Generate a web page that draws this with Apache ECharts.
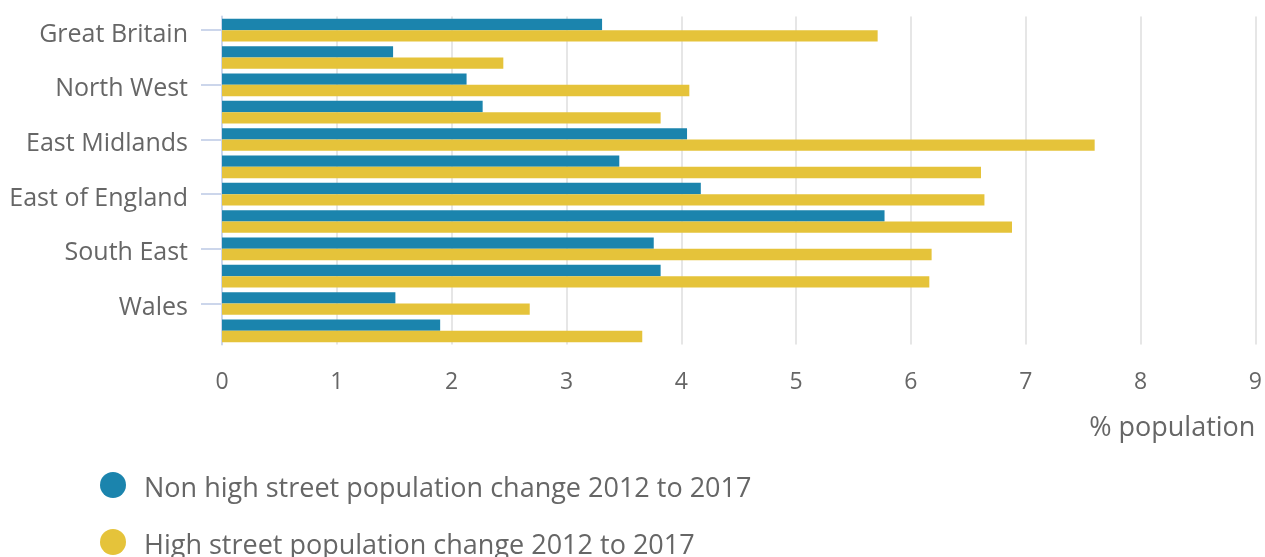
<!DOCTYPE html>
<html>
<head>
<meta charset="utf-8">
<script src="https://cdn.jsdelivr.net/npm/echarts@6/dist/echarts.min.js"></script>
<style>
	html, body { margin: 0; padding: 0; background: #fff; }
	#barChart { width: 1265px; height: 557px; }
</style>
</head>
<body>
<div id="barChart"></div>
<script>
// regions, top to bottom
var regions = [
	'Great Britain', 'North East', 'North West', 'Yorkshire and The Humber',
	'East Midlands', 'West Midlands', 'East of England', 'London',
	'South East', 'South West', 'Wales', 'Scotland'
];
// % population change 2012 to 2017
var nonHighStreet = [3.31, 1.49, 2.13, 2.27, 4.05, 3.46, 4.17, 5.77, 3.76, 3.82, 1.51, 1.90];
var highStreet = [5.71, 2.45, 4.07, 3.82, 7.60, 6.61, 6.64, 6.88, 6.18, 6.16, 2.68, 3.66];
var seriesNames = [
	'Non high street population change 2012 to 2017',
	'High street population change 2012 to 2017'
];

var fontFamily = '"Open Sans", sans-serif';
var textColor = '#666666';

var myEcharts = echarts.init(document.getElementById('barChart'));
var option = {
	animation: false,
	textStyle: { fontFamily: fontFamily },
	grid: {
		left: 222,
		right: 8.5,
		top: 16.5,
		height: 328
	},
	legend: {
		orient: 'vertical',
		left: 100,
		top: 472,
		height: 140,
		padding: 0,
		icon: 'circle',
		itemWidth: 26,
		itemHeight: 26,
		itemGap: 26,
		data: seriesNames,
		formatter: '{a|{name}}',
		textStyle: {
			color: textColor,
			fontSize: 27,
			fontFamily: fontFamily,
			padding: [0, 0, 0, 13],
			rich: {
				a: {
					color: textColor,
					fontSize: 27,
					fontFamily: fontFamily,
					padding: [9, 0, 0, 0]
				}
			}
		}
	},
	xAxis: {
		type: 'value',
		min: 0,
		max: 9,
		interval: 1,
		name: '% population',
		nameLocation: 'end',
		nameGap: 0,
		nameTextStyle: {
			color: textColor,
			fontSize: 27,
			fontFamily: fontFamily,
			align: 'right',
			verticalAlign: 'top',
			padding: [70, 0, 0, 0]
		},
		axisLine: { show: false },
		axisTick: { show: false },
		axisLabel: {
			color: textColor,
			fontSize: 23,
			fontFamily: fontFamily,
			margin: 26
		},
		splitLine: {
			show: true,
			lineStyle: { color: '#e6e6e6', width: 2 }
		}
	},
	yAxis: {
		type: 'category',
		inverse: true,
		data: regions,
		axisLine: {
			show: true,
			lineStyle: { color: '#ccd6eb', width: 2 }
		},
		axisTick: {
			show: true,
			interval: 1,
			alignWithLabel: true,
			length: 21,
			lineStyle: { color: '#ccd6eb', width: 2 }
		},
		axisLabel: {
			interval: 1,
			color: textColor,
			fontSize: 25,
			fontFamily: fontFamily,
			margin: 34,
			verticalAlign: 'top',
			lineHeight: 9
		}
	},
	series: [
		{
			name: seriesNames[0],
			type: 'bar',
			data: nonHighStreet,
			barGap: 0,
			barCategoryGap: '17%',
			itemStyle: { color: '#1b84ad' }
		},
		{
			name: seriesNames[1],
			type: 'bar',
			data: highStreet,
			barGap: 0,
			barCategoryGap: '17%',
			itemStyle: { color: '#e5c33a' }
		}
	]
};
myEcharts.setOption(option);
</script>
</body>
</html>
